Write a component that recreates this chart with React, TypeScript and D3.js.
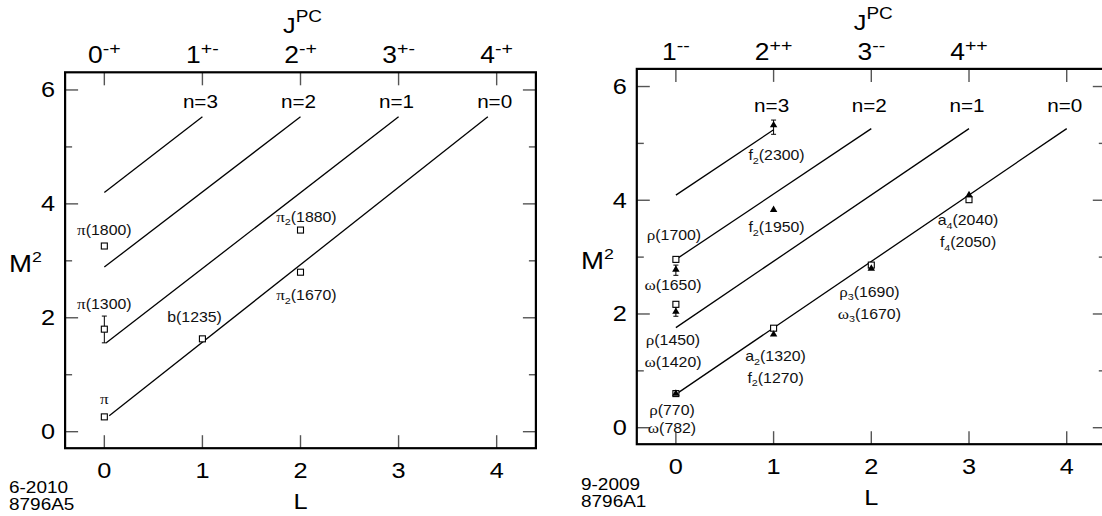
import React from "react";
import * as d3 from "d3";

const SANS = "'Liberation Sans', Arial, Helvetica, sans-serif";
const SERIF = "'Liberation Serif', 'Times New Roman', serif";
const SX = 1.15;

// ---- shared axes ----
const xTicks = [0, 1, 2, 3, 4];
const yMajor = [0, 2, 4, 6];
const yMinor = [1, 3, 5];

// ---- left panel (pseudoscalar / pion family) ----
const leftJPC = [
  { base: "0", sup: "-+" },
  { base: "1", sup: "+-" },
  { base: "2", sup: "-+" },
  { base: "3", sup: "+-" },
  { base: "4", sup: "-+" },
];
const leftLineN = [3, 2, 1, 0];
const leftLineStart = [[0, 4.2], [0, 2.89], [0.02, 1.56], [0.05, 0.28]];
const leftLineEnd = [[1.0, 5.53], [2.0, 5.53], [3.0, 5.53], [3.91, 5.53]];
const leftSquares = [
  { L: 0, m2: 0.26 },
  { L: 0, m2: 1.8 },
  { L: 0, m2: 3.26 },
  { L: 1, m2: 1.63 },
  { L: 2, m2: 2.8 },
  { L: 2, m2: 3.54 },
];
const leftTriangles: { L: number; m2: number }[] = [];
const leftErrors = [{ L: 0, lo: 1.56, hi: 2.03 }];
const leftLabels = [
  { text: "π(1800)", L: 0, m2: 3.45 },
  { text: "π(1300)", L: 0, m2: 2.15 },
  { text: "π", L: 0, m2: 0.49 },
  { text: "b(1235)", L: 0.92, m2: 1.93 },
  { text: "π_2(1670)", L: 2.06, m2: 2.31 },
  { text: "π_2(1880)", L: 2.06, m2: 3.69 },
];
const leftNotes = ["6-2010", "8796A5"];

// ---- right panel (vector family) ----
const rightJPC = [
  { base: "1", sup: "--" },
  { base: "2", sup: "++" },
  { base: "3", sup: "--" },
  { base: "4", sup: "++" },
];
const rightLineN = [3, 2, 1, 0];
const rightLineStart = [[0, 4.09], [0, 2.96], [0, 1.76], [0.01, 0.6]];
const rightLineEnd = [[1.0, 5.24], [2.0, 5.26], [3.0, 5.26], [4.0, 5.26]];
const rightSquares = [
  { L: 0, m2: 0.6 },
  { L: 0, m2: 2.17 },
  { L: 0, m2: 2.96 },
  { L: 1, m2: 1.75 },
  { L: 2, m2: 2.86 },
  { L: 3, m2: 4.01 },
];
const rightTriangles = [
  { L: 0, m2: 0.6 },
  { L: 0, m2: 2.04 },
  { L: 0, m2: 2.78 },
  { L: 1, m2: 1.64 },
  { L: 1, m2: 3.83 },
  { L: 1, m2: 5.32 },
  { L: 2, m2: 2.8 },
  { L: 3, m2: 4.09 },
];
const rightErrors = [
  { L: 0, lo: 1.96, hi: 2.12 },
  { L: 0, lo: 2.68, hi: 2.86 },
  { L: 1, lo: 5.16, hi: 5.41 },
];
const rightLabels = [
  { text: "f_2(2300)", L: 1.03, m2: 4.7 },
  { text: "f_2(1950)", L: 1.03, m2: 3.44 },
  { text: "a_4(2040)", L: 2.99, m2: 3.56 },
  { text: "f_4(2050)", L: 2.99, m2: 3.17 },
  { text: "ρ(1700)", L: -0.02, m2: 3.3 },
  { text: "ω(1650)", L: -0.03, m2: 2.42 },
  { text: "ρ(1450)", L: -0.03, m2: 1.45 },
  { text: "ω(1420)", L: -0.03, m2: 1.07 },
  { text: "ρ(770)", L: -0.04, m2: 0.22 },
  { text: "ω(782)", L: -0.04, m2: -0.1 },
  { text: "a_2(1320)", L: 1.02, m2: 1.17 },
  { text: "f_2(1270)", L: 1.02, m2: 0.79 },
  { text: "ρ_3(1690)", L: 1.98, m2: 2.3 },
  { text: "ω_3(1670)", L: 1.98, m2: 1.92 },
];
const rightNotes = ["9-2009", "8796A1"];

const GREEK = new Set(["π", "ρ", "ω"]);

function richParts(s: string) {
  const out: { t: string; greek?: boolean; sub?: boolean }[] = [];
  let i = 0;
  let buf = "";
  const flush = () => {
    if (buf) out.push({ t: buf });
    buf = "";
  };
  while (i < s.length) {
    const c = s[i];
    if (GREEK.has(c)) {
      flush();
      out.push({ t: c, greek: true });
    } else if (c === "_") {
      flush();
      out.push({ t: s[i + 1], sub: true });
      i++;
    } else buf += c;
    i++;
  }
  flush();
  return out;
}

function T(props: any) {
  const { x, y, anchor = "middle", size, children, family = SANS, fill = "#000" } = props;
  return (
    <text
      transform={`translate(${x},${y}) scale(${SX},1)`}
      textAnchor={anchor}
      fontSize={size}
      fontFamily={family}
      fill={fill}
    >
      {children}
    </text>
  );
}

function Rich({ x, y, text, size }: any) {
  const parts = richParts(text);
  const nodes: any[] = [];
  let shifted = 0;
  parts.forEach((p, k) => {
    if (p.sub) {
      nodes.push(
        <tspan key={k} fontSize={size * 0.68} dy={3.5}>
          {p.t}
        </tspan>
      );
      shifted = 3.5;
    } else {
      nodes.push(
        <tspan key={k} dy={shifted ? -shifted : undefined} fontFamily={p.greek ? SERIF : SANS} fontSize={p.greek ? size * 1.08 : size}>
          {p.t}
        </tspan>
      );
      shifted = 0;
    }
  });
  return (
    <T x={x} y={y} size={size} fill="#111">
      {nodes}
    </T>
  );
}

function Panel({ cfg }: any) {
  const x = d3.scaleLinear().domain([-0.4, 4.4]).range([cfg.x0, cfg.x1]);
  const y = d3.scaleLinear().domain([-0.29, 6.31]).range([cfg.yb, cfg.yt]);
  const tri = d3.symbol(d3.symbolTriangle, 24)() as string;
  const tickCol = "#555";
  const [xl, xr] = x.range();
  const [yb, yt] = y.range();
  return (
    <g>
      {/* ticks */}
      {xTicks.map((t) => (
        <g key={"xt" + t} stroke={tickCol} strokeWidth={1.4}>
          <line x1={x(t)} x2={x(t)} y1={yt} y2={yt + 13} />
          <line x1={x(t)} x2={x(t)} y1={yb} y2={yb - 13} />
        </g>
      ))}
      {yMajor.map((t) => (
        <g key={"ym" + t} stroke={tickCol} strokeWidth={1.4}>
          <line x1={xl} x2={xl + 13} y1={y(t)} y2={y(t)} />
          <line x1={xr} x2={xr - 13} y1={y(t)} y2={y(t)} />
        </g>
      ))}
      {yMinor.map((t) => (
        <g key={"yn" + t} stroke={tickCol} strokeWidth={1.4}>
          <line x1={xl} x2={xl + 7} y1={y(t)} y2={y(t)} />
          <line x1={xr} x2={xr - 7} y1={y(t)} y2={y(t)} />
        </g>
      ))}
      {/* frame */}
      <rect x={xl} y={yt} width={xr - xl} height={yb - yt} fill="none" stroke="#000" strokeWidth={2.2} />

      {/* trajectories */}
      {cfg.lineN.map((n: number, i: number) => (
        <line
          key={"ln" + n}
          x1={x(cfg.lineStart[i][0])}
          y1={y(cfg.lineStart[i][1])}
          x2={x(cfg.lineEnd[i][0])}
          y2={y(cfg.lineEnd[i][1])}
          stroke="#000"
          strokeWidth={1.3}
        />
      ))}
      {cfg.lineN.map((n: number) => (
        <T key={"nl" + n} x={x(4 - n) - 2} y={cfg.nY} size={18}>
          n={n}
        </T>
      ))}

      {/* error bars */}
      {cfg.errors.map((e: any, i: number) => (
        <g key={"er" + i} stroke="#000" strokeWidth={1}>
          <line x1={x(e.L)} x2={x(e.L)} y1={y(e.lo)} y2={y(e.hi)} />
          <line x1={x(e.L) - 2.5} x2={x(e.L) + 2.5} y1={y(e.lo)} y2={y(e.lo)} />
          <line x1={x(e.L) - 2.5} x2={x(e.L) + 2.5} y1={y(e.hi)} y2={y(e.hi)} />
        </g>
      ))}
      {/* squares */}
      {cfg.squares.map((p: any, i: number) => (
        <rect key={"sq" + i} x={x(p.L) - 3} y={y(p.m2) - 3} width={6} height={6} fill="#fff" stroke="#000" strokeWidth={1.1} />
      ))}
      {/* triangles */}
      {cfg.triangles.map((p: any, i: number) => (
        <path key={"tr" + i} d={tri} transform={`translate(${x(p.L)},${y(p.m2)})`} fill="#000" />
      ))}

      {/* state labels */}
      {cfg.labels.map((l: any, i: number) => (
        <Rich key={"lb" + i} x={x(l.L)} y={y(l.m2)} text={l.text} size={13.8} />
      ))}

      {/* top JPC tick labels */}
      {cfg.jpc.map((j: any, i: number) => (
        <T key={"jp" + i} x={x(i)} y={cfg.topY} size={23}>
          {j.base}
          <tspan fontSize={17} dy={-9}>
            {j.sup}
          </tspan>
        </T>
      ))}
      <T x={x(2) + 2} y={cfg.jY} size={22}>
        J
        <tspan fontSize={16.5} dy={-11}>
          PC
        </tspan>
      </T>

      {/* bottom tick labels */}
      {xTicks.map((t) => (
        <T key={"bl" + t} x={x(t)} y={cfg.botY} size={22}>
          {t}
        </T>
      ))}
      <T x={x(2)} y={cfg.LY} size={22}>
        L
      </T>

      {/* y tick labels */}
      {yMajor.map((t) => (
        <T key={"yl" + t} x={xl - 10} y={y(t) + 7.5} size={22} anchor="end">
          {t}
        </T>
      ))}
      <T x={cfg.mX} y={cfg.mY} size={24} anchor="start">
        M
        <tspan fontSize={15.5} dy={-10}>
          2
        </tspan>
      </T>

      {/* figure id notes */}
      {cfg.notes.map((s: string, i: number) => (
        <T key={"nt" + i} x={cfg.mX} y={cfg.noteY + i * 17} size={16.5} anchor="start">
          {s}
        </T>
      ))}
    </g>
  );
}

const leftCfg = {
  x0: 65.1, x1: 535.9, yb: 448.2, yt: 72.3,
  jpc: leftJPC, lineN: leftLineN, lineStart: leftLineStart, lineEnd: leftLineEnd,
  squares: leftSquares, triangles: leftTriangles, errors: leftErrors, labels: leftLabels,
  notes: leftNotes,
  topY: 63.3, jY: 33, botY: 478, LY: 508.5, nY: 108.3, mX: 9, mY: 272, noteY: 493,
};
const rightCfg = {
  x0: 636.8, x1: 1105.8, yb: 444.2, yt: 68.9,
  jpc: rightJPC, lineN: rightLineN, lineStart: rightLineStart, lineEnd: rightLineEnd,
  squares: rightSquares, triangles: rightTriangles, errors: rightErrors, labels: rightLabels,
  notes: rightNotes,
  topY: 60, jY: 30, botY: 474, LY: 505, nY: 111.7, mX: 581, mY: 268.5, noteY: 490,
};

export default function App() {
  return (
    <svg
      width={1102}
      height={516}
      style={{ position: "absolute", left: 0, top: 0, background: "#fff" }}
    >
      <rect width={1102} height={516} fill="#fff" />
      <Panel cfg={leftCfg} />
      <Panel cfg={rightCfg} />
    </svg>
  );
}
